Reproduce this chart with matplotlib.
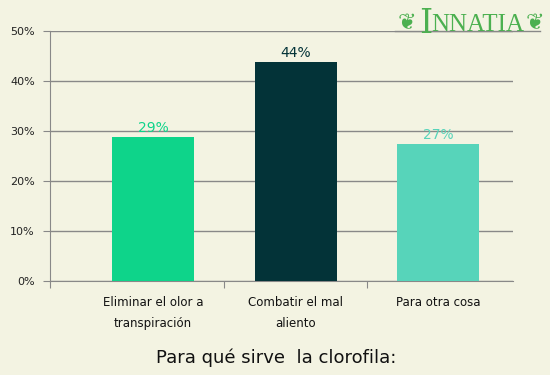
import matplotlib
matplotlib.use("Agg")
import matplotlib.pyplot as plt
from matplotlib.ticker import FixedLocator

categories = ["Eliminar el olor a\ntranspiración", "Combatir el mal\naliento", "Para otra cosa"]
values = [28.9, 43.9, 27.5]
labels = ["29%", "44%", "27%"]
colors = ["#0ED48A", "#033338", "#57D4BA"]
yticks = [0, 10, 20, 30, 40, 50]
ytick_labels = ["0%", "10%", "20%", "30%", "40%", "50%"]
title = "Para qué sirve  la clorofila:"

bg = "#F3F3E2"
W, H = 550, 375
fig = plt.figure(figsize=(W / 100, H / 100), dpi=100, facecolor=bg)
ax = fig.add_axes([50 / W, 1 - 281 / H, (513 - 50) / W, (281 - 31) / H], facecolor=bg)

x = list(range(len(categories)))
ax.bar(x, values, width=0.575, color=colors, zorder=3)
for xi, v, lab, c in zip(x, values, labels, colors):
    ax.text(xi, v + 0.3, lab, ha="center", va="bottom", fontsize=10, color=c, zorder=4)

ax.set_xlim(-0.723, 2.526)
ax.set_ylim(0, 50)
ax.set_yticks(yticks)
ax.set_yticklabels(ytick_labels, fontsize=8, color="#222222")
ax.yaxis.grid(True, color="#888888", linewidth=1, zorder=1)
ax.tick_params(axis="y", length=5, color="#888888", pad=6)

ax.xaxis.set_major_locator(FixedLocator([-0.723, 0.5, 1.5]))
ax.set_xticklabels([])
ax.xaxis.set_minor_locator(FixedLocator(x))
ax.set_xticklabels(categories, minor=True, fontsize=8.5, color="#111111", linespacing=1.8)
ax.tick_params(axis="x", which="major", length=5, color="#888888")
ax.tick_params(axis="x", which="minor", length=0, pad=11)

for s in ["top", "right"]:
    ax.spines[s].set_visible(False)
for s in ["left", "bottom"]:
    ax.spines[s].set_color("#888888")

fig.text(276 / W, 1 - 358 / H, title, ha="center", va="center", fontsize=13, color="#111111")

# logo
green = "#4CB050"
fig.lines.append(plt.Line2D([395 / W, 540 / W], [1 - 31 / H, 1 - 31 / H],
                            transform=fig.transFigure, color="#888888", linewidth=1))
fig.text(407 / W, 1 - 23 / H, "❦", ha="center", va="center", fontsize=16, color=green)
fig.text(419 / W, 1 - 33 / H, "I", ha="left", va="baseline", fontsize=24, color=green,
         family="DejaVu Serif")
fig.text(431 / W, 1 - 31 / H, "NNATIA", ha="left", va="baseline", fontsize=18, color=green,
         family="Liberation Serif")
fig.text(535 / W, 1 - 23 / H, "❦", ha="center", va="center", fontsize=16, color=green)

fig.savefig("out.png", dpi=100, facecolor=bg)
